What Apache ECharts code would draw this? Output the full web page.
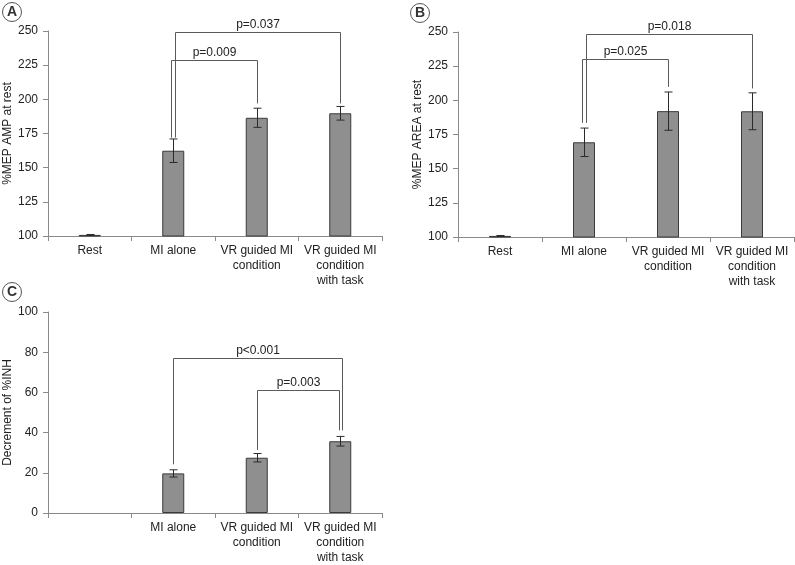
<!DOCTYPE html>
<html><head><meta charset="utf-8">
<script src="https://cdn.jsdelivr.net/npm/echarts@6/dist/echarts.min.js"></script>
<style>html,body{margin:0;padding:0;background:#fff}#c{width:795px;height:565px}</style>
</head><body><div id="c"></div>
<script>
// ---- data ----
const categoriesAB = ['Rest', 'MI alone', 'VR guided MI\ncondition', 'VR guided MI\ncondition\nwith task'];
const categoriesC = ['', 'MI alone', 'VR guided MI\ncondition', 'VR guided MI\ncondition\nwith task'];
const ampMean = [100.8, 162.4, 186.5, 189.8];
const ampErr = [0.3, 8.6, 7.0, 5.0];
const areaMean = [100.8, 169.3, 192.1, 192.0];
const areaErr = [0.3, 10.4, 14.0, 13.5];
const inhMean = [null, 19.7, 27.5, 35.7];
const inhErr = [null, 1.8, 2.1, 2.4];
const yAxisAB = {min: 100, max: 250, interval: 25};
const yAxisC = {min: 0, max: 100, interval: 20};
// brackets: [fromCategory, toCategory, bracket height, from-end value, to-end value, label]
const bracketsA = [[1, 2, 228.5, 172, 197, 'p=0.009'], [1, 3, 249.5, 172, 197, 'p=0.037']];
const bracketsB = [[1, 2, 230, 183.5, 209.8, 'p=0.025'], [1, 3, 248.8, 183.5, 208.7, 'p=0.018']];
const bracketsC = [[1, 3, 77.2, 24.2, 41.1, 'p<0.001'], [2, 3, 61.1, 31.4, 41.1, 'p=0.003']];
const titleA = '%MEP AMP at rest';
const titleB = '%MEP AREA at rest';
const titleC = 'Decrement of %INH';

// ---- style ----
const FONT = '"Liberation Sans", Arial, Helvetica, sans-serif';
const AXIS = '#8a8a8a';
const TEXT = '#222';
const bracketOffsets = {A: [[-2, 0], [2, 0]], B: [[-2, 0], [2, 0]], C: [[0, 1.5], [0, -1]]};

function xAxis(grid, cats) {
  return {
    type: 'category', gridIndex: grid, data: cats,
    axisLine: {lineStyle: {color: AXIS, width: 1}},
    axisTick: {show: true, length: 5, lineStyle: {color: AXIS}},
    axisLabel: {interval: 0, color: TEXT, fontSize: 12, lineHeight: 15, margin: 7, fontFamily: FONT}
  };
}
function yAxis(grid, ax, name, gap) {
  return {
    type: 'value', gridIndex: grid, min: ax.min, max: ax.max, interval: ax.interval,
    name: name, nameLocation: 'middle', nameGap: gap,
    nameTextStyle: {color: TEXT, fontSize: 12, fontFamily: FONT},
    axisLine: {show: true, lineStyle: {color: AXIS, width: 1}},
    axisTick: {show: true, length: 5, lineStyle: {color: AXIS}},
    splitLine: {show: false},
    axisLabel: {color: TEXT, fontSize: 12, margin: 10, fontFamily: FONT}
  };
}
function barSeries(i, means) {
  return {
    type: 'bar', xAxisIndex: i, yAxisIndex: i, data: means, barWidth: 22,
    itemStyle: {color: '#8f8f8f', borderColor: '#3a3a3a', borderWidth: 1},
    silent: true, animation: false
  };
}
function errSeries(i, means, errs) {
  const d = [];
  means.forEach((m, k) => { if (m != null) d.push([k, m - errs[k], m + errs[k]]); });
  return {
    type: 'custom', xAxisIndex: i, yAxisIndex: i, data: d, encode: {x: 0, y: [1, 2]},
    animation: false, silent: true, z: 5,
    renderItem: function (params, api) {
      const lo = api.coord([api.value(0), api.value(1)]);
      const hi = api.coord([api.value(0), api.value(2)]);
      const x = Math.round(lo[0]) + 0.5, w = 4;
      const style = {stroke: '#2a2a2a', lineWidth: 1, fill: null};
      return {type: 'group', children: [
        {type: 'line', shape: {x1: x, y1: lo[1], x2: x, y2: hi[1]}, style: style},
        {type: 'line', shape: {x1: x - w, y1: lo[1], x2: x + w, y2: lo[1]}, style: style},
        {type: 'line', shape: {x1: x - w, y1: hi[1], x2: x + w, y2: hi[1]}, style: style}
      ]};
    }
  };
}
function bracketSeries(i, brackets, offs) {
  return {
    type: 'custom', xAxisIndex: i, yAxisIndex: i,
    data: brackets.map(b => [b[0], b[2]]), encode: {x: 0, y: 1},
    animation: false, silent: true, z: 6, clip: false,
    renderItem: function (params, api) {
      const b = brackets[params.dataIndex];
      const o = offs[params.dataIndex];
      const top = api.coord([b[0], b[2]]);
      const x1 = Math.round(api.coord([b[0], b[2]])[0] + o[0]) + 0.5;
      const x2 = Math.round(api.coord([b[1], b[2]])[0] + o[1]) + 0.5;
      const yy = Math.round(top[1]) + 0.5;
      const y1 = api.coord([b[0], b[3]])[1];
      const y2 = api.coord([b[1], b[4]])[1];
      return {type: 'group', children: [
        {type: 'polyline', shape: {points: [[x1, y1], [x1, yy], [x2, yy], [x2, y2]]},
         style: {stroke: '#5a5a5a', lineWidth: 1, fill: null}},
        {type: 'text', style: {text: b[5], x: (x1 + x2) / 2, y: yy - 2, align: 'center',
         verticalAlign: 'bottom', fontSize: 12, fontFamily: FONT, fill: TEXT}}
      ]};
    }
  };
}
function badge(letter, cx, cy) {
  return {type: 'group', children: [
    {type: 'circle', shape: {cx: cx, cy: cy, r: 9.5}, style: {stroke: '#555', lineWidth: 1, fill: '#fff'}},
    {type: 'text', style: {text: letter, x: cx, y: cy + 0.5, align: 'center', verticalAlign: 'middle',
      fontSize: 14, fontWeight: 'bold', fontFamily: FONT, fill: '#333'}}
  ]};
}

const chart = echarts.init(document.getElementById('c'), null, {renderer: 'canvas'});
chart.setOption({
  backgroundColor: '#fff',
  animation: false,
  grid: [
    {left: 48, top: 31, width: 334, height: 205},
    {left: 458, top: 32, width: 336, height: 205},
    {left: 48, top: 312, width: 334, height: 206}
  ],
  xAxis: [xAxis(0, categoriesAB), xAxis(1, categoriesAB), xAxis(2, categoriesC)],
  yAxis: [yAxis(0, yAxisAB, titleA, 33), yAxis(1, yAxisAB, titleB, 34), yAxis(2, yAxisC, titleC, 33)],
  series: [
    barSeries(0, ampMean), errSeries(0, ampMean, ampErr), bracketSeries(0, bracketsA, bracketOffsets.A),
    barSeries(1, areaMean), errSeries(1, areaMean, areaErr), bracketSeries(1, bracketsB, bracketOffsets.B),
    barSeries(2, inhMean), errSeries(2, inhMean, inhErr), bracketSeries(2, bracketsC, bracketOffsets.C)
  ],
  graphic: [badge('A', 12, 12), badge('B', 420, 13), badge('C', 12, 292)]
});
</script>
</body></html>
